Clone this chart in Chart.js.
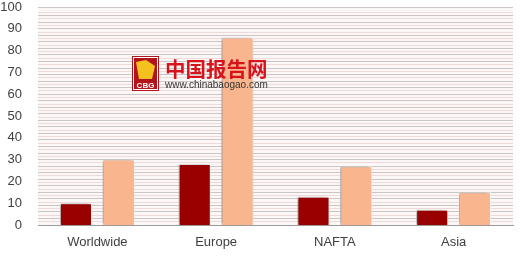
<!DOCTYPE html>
<html>
<head>
<meta charset="utf-8">
<script src="https://cdn.jsdelivr.net/npm/chart.js@4.4.0/dist/chart.umd.min.js"></script>
<style>
  html, body { margin: 0; padding: 0; background: #fff; }
  #wrap { width: 520px; height: 256px; }
</style>
</head>
<body>
<div id="wrap"><canvas id="c" width="520" height="256"></canvas></div>
<script>
const regions = ['Worldwide', 'Europe', 'NAFTA', 'Asia'];
const seriesA = [10, 28, 13, 7];
const seriesB = [30, 86, 27, 15];
const yTicks = [0, 10, 20, 30, 40, 50, 60, 70, 80, 90, 100];

// pinkish background behind the striped grid
const areaBg = {
    id: 'areaBg',
    beforeDraw(chart) {
        const a = chart.chartArea, ctx = chart.ctx;
        ctx.save();
        ctx.fillStyle = '#fbf7f7';
        ctx.fillRect(a.left, a.top, a.right - a.left, a.bottom - a.top);
        ctx.restore();
    }
};

// soft shadow under the bars
const barShadow = {
    id: 'barShadow',
    beforeDatasetsDraw(chart) {
        const ctx = chart.ctx;
        ctx.save();
        ctx.shadowColor = 'rgba(0,0,0,0.4)';
        ctx.shadowBlur = 4;
        ctx.shadowOffsetX = -2;
        ctx.shadowOffsetY = 0;
    },
    afterDatasetsDraw(chart) {
        chart.ctx.restore();
    }
};

// site watermark
const watermark = {
    id: 'watermark',
    afterDraw(chart) {
        const ctx = chart.ctx;
        ctx.save();
        // logo box
        ctx.fillStyle = '#b3141b';
        ctx.fillRect(132, 56, 27, 35);
        ctx.fillStyle = '#f4c21f';
        ctx.beginPath();
        ctx.moveTo(136, 62); ctx.lineTo(146, 60); ctx.lineTo(155, 66);
        ctx.lineTo(152, 79); ctx.lineTo(139, 79); ctx.closePath();
        ctx.fill();
        ctx.fillStyle = '#fff';
        ctx.font = 'bold 8px "Liberation Sans"';
        ctx.textAlign = 'center';
        ctx.textBaseline = 'middle';
        ctx.fillText('CBG', 145.5, 85.5);
        ctx.strokeStyle = '#fff';
        ctx.lineWidth = 1;
        ctx.strokeRect(133.5, 57.5, 24, 32);
        // title
        ctx.textAlign = 'left';
        ctx.textBaseline = 'alphabetic';
        ctx.fillStyle = '#d7141b';
        ctx.font = 'bold 20.5px "Noto Sans CJK SC"';
        ctx.fillText('中国报告网', 165, 77);
        ctx.fillStyle = '#333';
        ctx.font = '10px "Liberation Sans"';
        ctx.fillText('www.chinabaogao.com', 165, 88);
        ctx.restore();
    }
};

new Chart(document.getElementById('c'), {
    type: 'bar',
    data: {
        labels: regions,
        datasets: [
            { data: seriesA, backgroundColor: '#990000', borderColor: '#ffffff', borderWidth: 1 },
            { data: seriesB, backgroundColor: '#f9b68e', borderColor: '#ffffff', borderWidth: 1 }
        ]
    },
    options: {
        responsive: false,
        animation: false,
        layout: { padding: { left: 0, right: 7, top: 0, bottom: 4 } },
        plugins: { legend: { display: false }, tooltip: { enabled: false } },
        datasets: { bar: { categoryPercentage: 0.72, barPercentage: 0.75 } },
        scales: {
            x: {
                afterFit(axis) { axis.height = 27; },
                grid: { display: false, drawTicks: false },
                border: { display: true, color: '#9a9a9a', width: 1 },
                ticks: { color: '#404040', font: { family: 'Liberation Sans', size: 13 }, padding: 10, maxRotation: 0 }
            },
            y: {
                min: 0, max: 100,
                afterBuildTicks(axis) { axis.ticks = yTicks.map(v => ({ value: v })); },
                afterFit(axis) { axis.width = 38; axis.paddingTop = 7; axis.paddingBottom = 0; },
                grid: { display: false, drawTicks: false },
                border: { display: false },
                ticks: { color: '#404040', font: { family: 'Liberation Sans', size: 13 }, padding: 16 }
            },
            stripes: {
                position: 'left',
                min: 0, max: 100,
                afterFit(axis) { axis.width = 0; axis.paddingTop = 0; axis.paddingBottom = 0; },
                ticks: { display: false, stepSize: 1.5 },
                grid: {
                    drawTicks: false,
                    color: ctx => (ctx.index % 2 === 0 ? '#cdc4c4' : '#efdada'),
                    lineWidth: 1
                },
                border: { display: false }
            }
        }
    },
    plugins: [areaBg, barShadow, watermark]
});
</script>
</body>
</html>
